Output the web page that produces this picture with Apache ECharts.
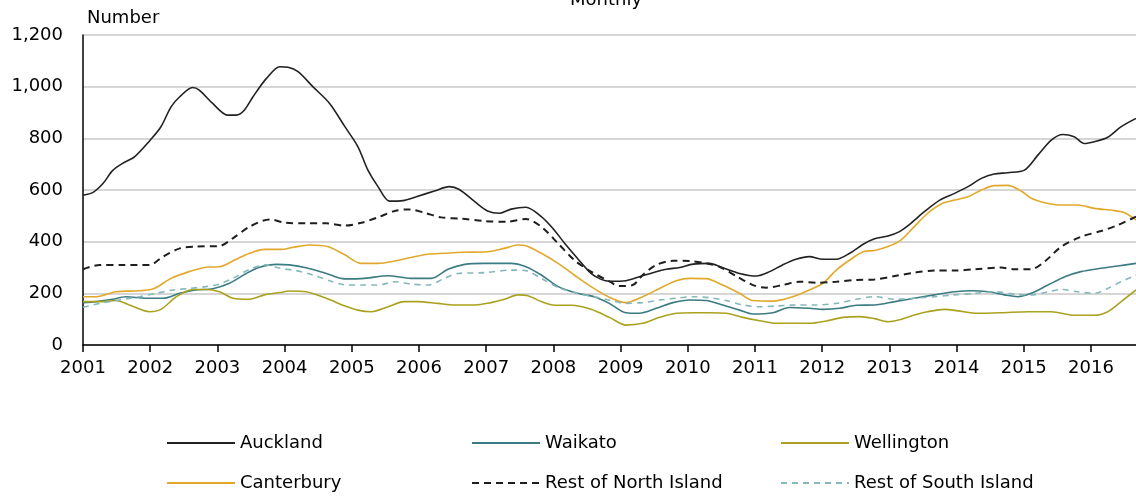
<!DOCTYPE html>
<html>
<head>
<meta charset="utf-8">
<script src="https://cdn.jsdelivr.net/npm/echarts@6/dist/echarts.min.js"></script>
<style>
html,body{margin:0;padding:0;background:#fff;}
#chart{width:1136px;height:497px;}
</style>
</head>
<body>
<div id="chart"></div>
<script>
// Values: [decimal year, number]
const auckland = [[2001.00,580],[2001.15,591],[2001.30,626],[2001.44,675],[2001.59,703],[2001.77,729],[2001.99,790],[2002.16,845],[2002.31,922],[2002.44,961],[2002.63,997],[2002.73,987],[2002.93,935],[2003.15,890],[2003.28,890],[2003.40,909],[2003.53,961],[2003.73,1032],[2003.93,1077],[2004.05,1075],[2004.20,1058],[2004.42,1000],[2004.67,935],[2004.89,848],[2005.09,768],[2005.24,677],[2005.39,613],[2005.56,557],[2005.76,559],[2005.96,574],[2006.23,596],[2006.45,613],[2006.60,602],[2006.83,555],[2007.02,519],[2007.20,510],[2007.37,526],[2007.59,533],[2007.82,497],[2007.99,452],[2008.17,393],[2008.36,335],[2008.56,277],[2008.71,254],[2008.84,247],[2009.08,249],[2009.28,264],[2009.48,280],[2009.68,293],[2009.88,300],[2010.08,313],[2010.32,316],[2010.52,299],[2010.77,277],[2011.02,267],[2011.22,284],[2011.41,310],[2011.61,332],[2011.81,342],[2012.01,332],[2012.21,332],[2012.41,355],[2012.61,390],[2012.78,411],[2012.98,422],[2013.15,439],[2013.32,471],[2013.52,516],[2013.75,561],[2013.97,587],[2014.17,613],[2014.37,645],[2014.56,662],[2014.76,667],[2015.01,677],[2015.21,735],[2015.41,793],[2015.58,815],[2015.75,806],[2015.90,780],[2016.05,787],[2016.25,804],[2016.45,845],[2016.67,877]];
const waikato = [[2001.00,164],[2001.20,168],[2001.44,177],[2001.64,187],[2001.94,181],[2002.19,181],[2002.44,200],[2002.68,213],[2002.93,218],[2003.18,239],[2003.43,277],[2003.63,301],[2003.88,312],[2004.07,310],[2004.32,299],[2004.62,277],[2004.89,256],[2005.19,258],[2005.54,268],[2005.88,258],[2006.18,258],[2006.43,293],[2006.68,312],[2006.97,316],[2007.37,316],[2007.59,303],[2007.82,271],[2008.07,226],[2008.36,200],[2008.61,187],[2008.84,160],[2009.08,125],[2009.28,123],[2009.53,142],[2009.78,164],[2010.03,174],[2010.27,172],[2010.52,155],[2010.77,135],[2010.97,120],[2011.27,125],[2011.51,145],[2011.81,142],[2012.01,138],[2012.26,142],[2012.51,154],[2012.78,155],[2013.08,168],[2013.37,181],[2013.67,194],[2013.97,206],[2014.22,210],[2014.47,206],[2014.71,194],[2014.91,187],[2015.11,200],[2015.36,232],[2015.61,264],[2015.85,284],[2016.15,297],[2016.40,306],[2016.67,316]];
const wellington = [[2001.00,168],[2001.25,168],[2001.49,172],[2001.69,155],[2001.99,129],[2002.16,138],[2002.39,187],[2002.63,215],[2002.83,215],[2003.03,206],[2003.23,181],[2003.48,177],[2003.70,194],[2003.93,203],[2004.07,209],[2004.32,206],[2004.62,181],[2004.89,152],[2005.09,135],[2005.29,129],[2005.54,148],[2005.78,168],[2005.98,168],[2006.28,161],[2006.53,155],[2006.83,155],[2007.07,164],[2007.27,177],[2007.47,194],[2007.62,191],[2007.82,168],[2008.02,154],[2008.27,154],[2008.56,138],[2008.84,106],[2009.08,77],[2009.33,84],[2009.58,107],[2009.83,123],[2010.08,125],[2010.32,125],[2010.57,123],[2010.82,107],[2011.07,94],[2011.31,84],[2011.56,84],[2011.81,84],[2012.06,93],[2012.31,107],[2012.56,110],[2012.78,102],[2012.98,90],[2013.17,99],[2013.37,116],[2013.57,129],[2013.82,138],[2014.02,132],[2014.27,123],[2014.66,125],[2015.06,129],[2015.41,129],[2015.75,115],[2016.05,115],[2016.25,129],[2016.45,168],[2016.67,213]];
const canterbury = [[2001.00,187],[2001.20,187],[2001.49,206],[2001.84,210],[2002.06,219],[2002.31,258],[2002.58,284],[2002.83,301],[2003.03,303],[2003.28,332],[2003.48,355],[2003.70,370],[2003.95,370],[2004.12,378],[2004.37,387],[2004.64,381],[2004.89,350],[2005.14,316],[2005.39,316],[2005.64,325],[2005.88,339],[2006.13,351],[2006.38,355],[2006.63,359],[2007.02,361],[2007.27,374],[2007.47,387],[2007.59,384],[2007.82,355],[2008.07,316],[2008.31,271],[2008.56,226],[2008.84,184],[2009.08,164],[2009.33,187],[2009.58,219],[2009.83,249],[2010.03,258],[2010.27,257],[2010.52,232],[2010.77,200],[2010.97,172],[2011.27,170],[2011.56,187],[2011.81,213],[2012.01,239],[2012.21,290],[2012.41,329],[2012.61,361],[2012.78,366],[2012.98,381],[2013.17,406],[2013.37,458],[2013.57,510],[2013.77,546],[2013.97,561],[2014.17,574],[2014.37,600],[2014.56,617],[2014.76,618],[2014.96,596],[2015.11,568],[2015.31,551],[2015.56,542],[2015.80,542],[2016.05,529],[2016.35,520],[2016.50,512],[2016.67,484]];
const restNorth = [[2001.00,293],[2001.25,310],[2001.59,310],[2001.99,310],[2002.19,342],[2002.44,374],[2002.66,381],[2003.03,383],[2003.23,413],[2003.48,458],[2003.78,486],[2004.02,473],[2004.32,471],[2004.62,471],[2004.89,462],[2005.14,473],[2005.39,494],[2005.64,519],[2005.86,525],[2006.08,512],[2006.33,494],[2006.63,489],[2006.97,480],[2007.32,477],[2007.59,488],[2007.82,458],[2008.07,393],[2008.31,329],[2008.56,284],[2008.84,245],[2008.98,228],[2009.18,232],[2009.33,271],[2009.53,310],[2009.78,326],[2010.03,325],[2010.27,316],[2010.47,303],[2010.72,267],[2010.97,232],[2011.17,222],[2011.41,232],[2011.66,245],[2011.91,241],[2012.21,245],[2012.51,252],[2012.78,254],[2013.08,267],[2013.37,280],[2013.67,288],[2013.97,288],[2014.27,293],[2014.66,300],[2014.86,293],[2015.11,293],[2015.31,323],[2015.56,381],[2015.85,419],[2016.15,441],[2016.40,464],[2016.67,497]];
const restSouth = [[2001.00,146],[2001.25,161],[2001.54,174],[2001.84,187],[2002.09,200],[2002.34,213],[2002.58,219],[2002.83,226],[2003.03,236],[2003.23,258],[2003.48,293],[2003.73,310],[2003.93,297],[2004.17,288],[2004.42,271],[2004.67,249],[2004.89,233],[2005.14,232],[2005.39,232],[2005.64,245],[2005.88,236],[2006.13,232],[2006.38,258],[2006.58,277],[2006.97,280],[2007.37,290],[2007.59,288],[2007.82,258],[2008.07,223],[2008.36,200],[2008.61,187],[2008.84,173],[2009.08,161],[2009.33,164],[2009.58,174],[2009.83,181],[2010.08,187],[2010.32,183],[2010.57,172],[2010.82,155],[2011.07,148],[2011.31,151],[2011.61,155],[2011.91,155],[2012.21,161],[2012.51,177],[2012.78,187],[2013.08,177],[2013.37,181],[2013.67,187],[2013.97,194],[2014.27,200],[2014.56,206],[2014.86,197],[2015.11,194],[2015.36,206],[2015.56,215],[2015.80,206],[2016.05,200],[2016.25,219],[2016.45,245],[2016.67,271]];

const seriesNames = ['Auckland','Waikato','Wellington','Canterbury','Rest of North Island','Rest of South Island'];
const yTicks = [0,200,400,600,800,1000,1200];
const xStart = 2001, xEnd = 2016.67;

const FONT = 'DejaVu Sans';
const colors = {
  'Auckland':'#222222','Waikato':'#3b7b82','Wellington':'#aaa21e',
  'Canterbury':'#e2a82c','Rest of North Island':'#1e1e1e','Rest of South Island':'#86b8bb'
};
const dataMap = {
  'Auckland':auckland,'Waikato':waikato,'Wellington':wellington,
  'Canterbury':canterbury,'Rest of North Island':restNorth,'Rest of South Island':restSouth
};
const dashMap = {'Rest of North Island':[7,5],'Rest of South Island':[6,5]};

const chart = echarts.init(document.getElementById('chart'), null, {renderer:'canvas'});

const legendPos = [
  {name:'Auckland', left:166, top:434},
  {name:'Waikato', left:471, top:434},
  {name:'Wellington', left:780, top:434},
  {name:'Canterbury', left:166, top:474},
  {name:'Rest of North Island', left:471, top:474},
  {name:'Rest of South Island', left:780, top:474}
];

const option = {
  animation:false,
  backgroundColor:'#fff',
  grid:{left:83, right:0, top:35, bottom:152, containLabel:false},
  graphic:[
    {type:'text', left:570, top:-9, style:{text:'Monthly', font:'18px "'+FONT+'"', fill:'#000'}},
    {type:'text', left:87, top:9, style:{text:'Number', font:'18px "'+FONT+'"', fill:'#000'}}
  ],
  legend: legendPos.map(p => ({
    data:[p.name], left:p.left, top:p.top, itemWidth:68, itemHeight:14,
    padding:0, selectedMode:false,
    itemStyle:{opacity:0, borderWidth:0},
    textStyle:{fontFamily:FONT, fontSize:18, color:'#000'}
  })),
  xAxis:{
    type:'value', min:xStart, max:xEnd, interval:1,
    axisLine:{show:true, lineStyle:{color:'#000', width:1.5}},
    axisTick:{show:true, length:7, lineStyle:{color:'#000', width:1.5}},
    axisLabel:{margin:14, color:'#000', fontFamily:FONT, fontSize:18, showMaxLabel:false,
      formatter:v => Number.isInteger(Math.round(v*1000)/1000) ? String(Math.round(v)) : ''},
    splitLine:{show:false}
  },
  yAxis:{
    type:'value', min:yTicks[0], max:yTicks[yTicks.length-1], interval:200,
    axisLine:{show:true, lineStyle:{color:'#000', width:1.5}},
    axisTick:{show:false},
    axisLabel:{margin:20, color:'#000', fontFamily:FONT, fontSize:18,
      formatter:v => v.toLocaleString('en-US')},
    splitLine:{show:true, lineStyle:{color:'#c9c9c9', width:1.5}}
  },
  series: seriesNames.map(n => ({
    name:n, type:'line', data:dataMap[n], showSymbol:false, symbol:'none',
    smooth:0.3, clip:true,
    lineStyle:{color:colors[n], width: n==='Rest of North Island' ? 2 : 1.6, type: dashMap[n] || 'solid'},
    itemStyle:{color:colors[n]},
    z: n==='Auckland' ? 3 : 2
  }))
};
chart.setOption(option);
</script>
</body>
</html>
